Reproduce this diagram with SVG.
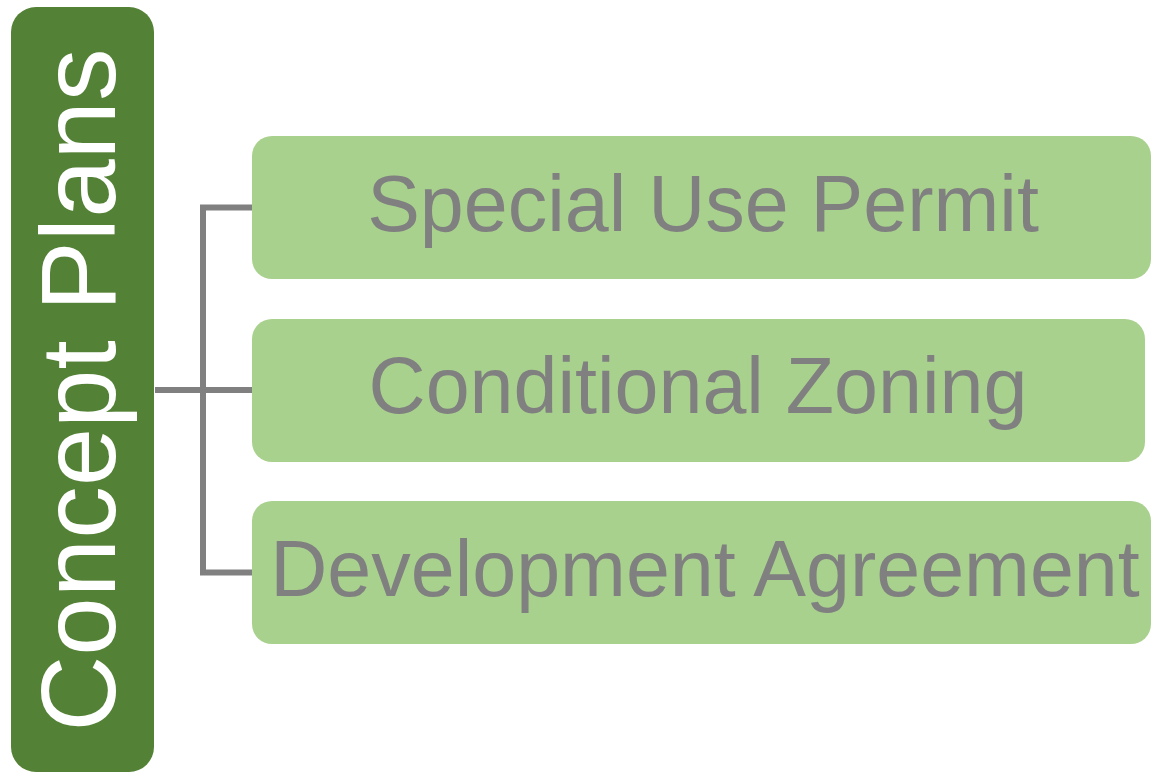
<svg xmlns="http://www.w3.org/2000/svg" width="1151" height="773" viewBox="0 0 1151 773">
  <style>
    .box { fill: #A9D18E; }
    .lbl { font-family: "Liberation Sans", Arial, sans-serif; font-size: 79px; fill: #808080; text-anchor: middle; }
    .conn { stroke: #808080; stroke-width: 6; fill: none; }
  </style>
  <rect width="1151" height="773" fill="#FFFFFF"/>
  <g id="connectors">
    <path class="conn" d="M155 390 H252"/>
    <path class="conn" d="M252 207.5 H203 V572.5 H252"/>
  </g>
  <g id="node-concept-plans">
    <rect x="11" y="7" width="143" height="765" rx="25" ry="25" fill="#538135"/>
    <text transform="translate(115,390) rotate(-90)" font-family="Liberation Sans, Arial, sans-serif" font-size="105" fill="#FFFFFF" text-anchor="middle">Concept Plans</text>
  </g>
  <g id="node-special-use-permit">
    <rect class="box" x="252" y="136" width="899" height="143" rx="20" ry="20"/>
    <text class="lbl" x="703" y="231">Special Use Permit</text>
  </g>
  <g id="node-conditional-zoning">
    <rect class="box" x="252" y="319" width="893" height="143" rx="20" ry="20"/>
    <text class="lbl" x="698" y="413">Conditional Zoning</text>
  </g>
  <g id="node-development-agreement">
    <rect class="box" x="252" y="501" width="899" height="143" rx="20" ry="20"/>
    <text class="lbl" x="705" y="596">Development Agreement</text>
  </g>
</svg>
